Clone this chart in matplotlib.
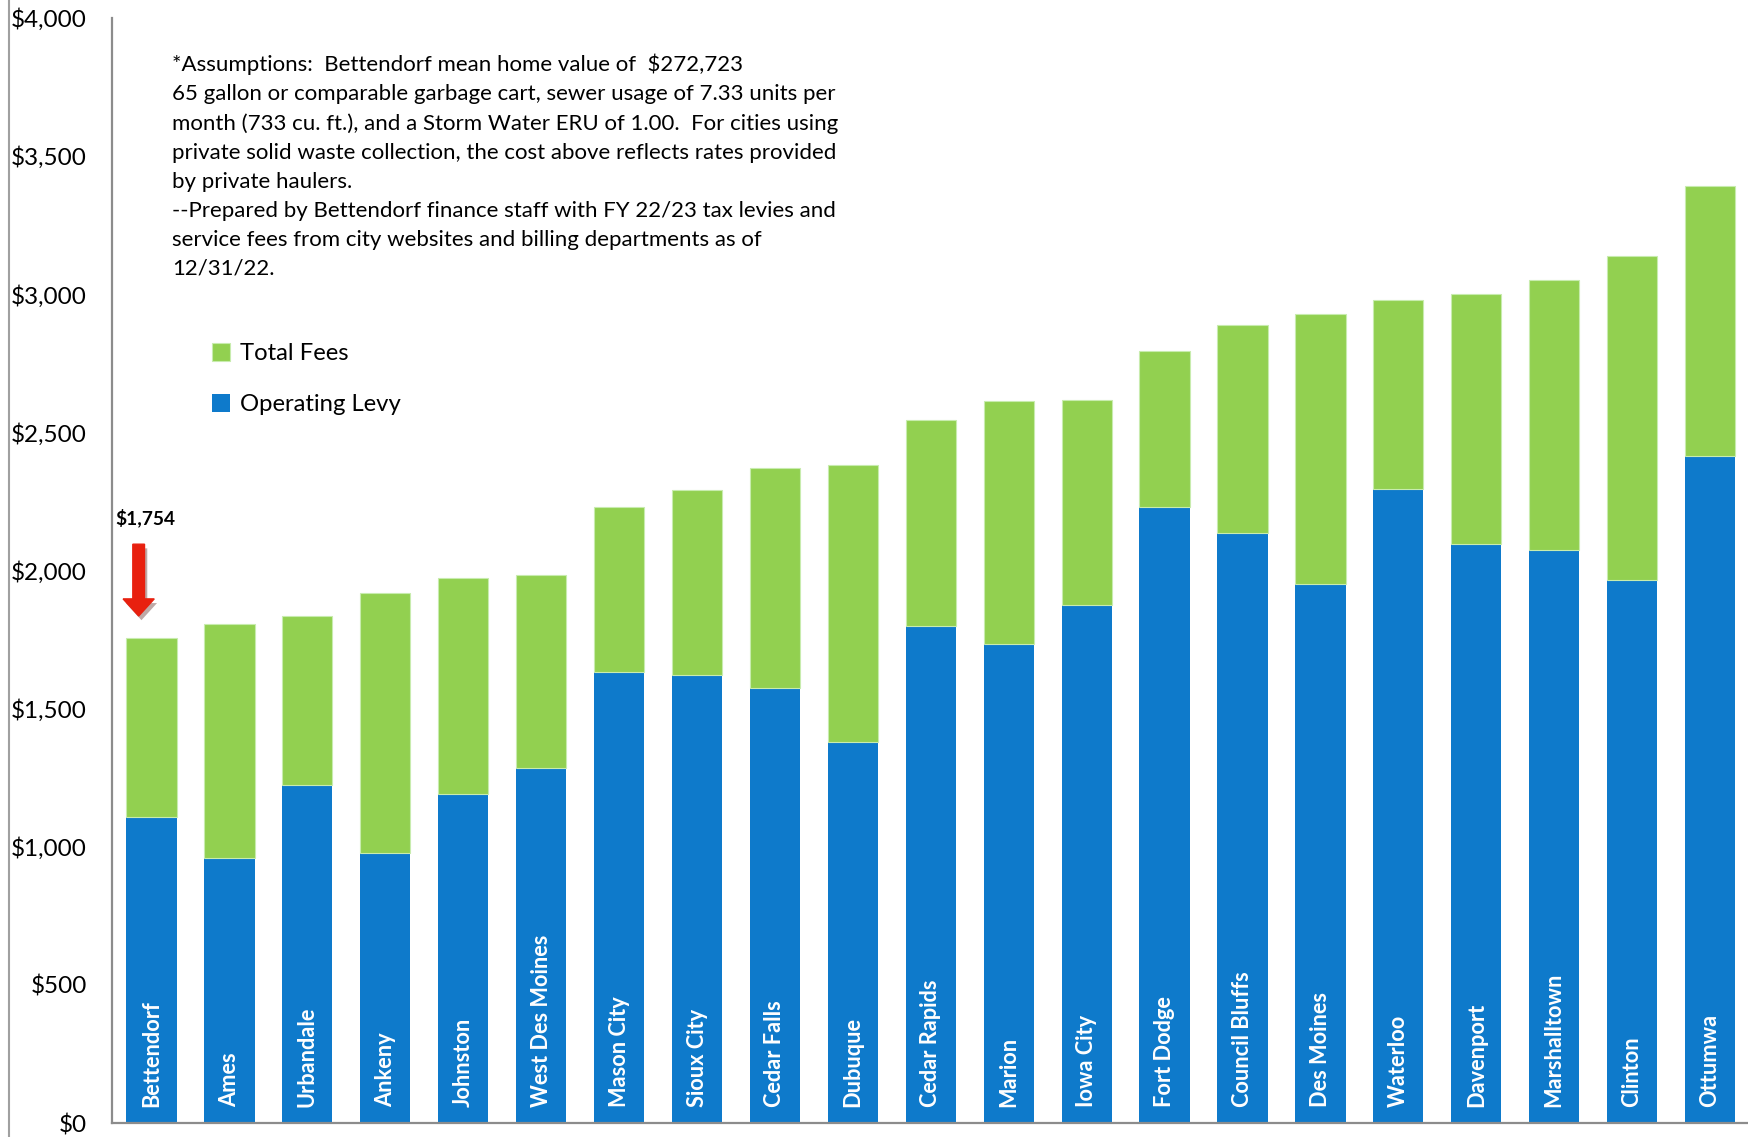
import numpy as np
import matplotlib.pyplot as plt
from matplotlib.lines import Line2D
from matplotlib.patches import FancyArrow
import matplotlib.patheffects as pe

plt.rcParams['font.family'] = ['Lato', 'DejaVu Sans']

# cities, sorted by total annual cost
cities = ["Bettendorf", "Ames", "Urbandale", "Ankeny", "Johnston", "West Des Moines",
          "Mason City", "Sioux City", "Cedar Falls", "Dubuque", "Cedar Rapids", "Marion",
          "Iowa City", "Fort Dodge", "Council Bluffs", "Des Moines", "Waterloo",
          "Davenport", "Marshalltown", "Clinton", "Ottumwa"]
operating_levy = [1109, 960, 1222, 976, 1190, 1286, 1633, 1621, 1573, 1379, 1798, 1734,
                  1875, 2230, 2137, 1952, 2294, 2097, 2073, 1964, 2415]
total_cost = [1754, 1806, 1835, 1919, 1972, 1984, 2230, 2290, 2371, 2383, 2544, 2613,
              2617, 2794, 2887, 2927, 2980, 3000, 3052, 3137, 3391]
total_fees = [t - l for t, l in zip(total_cost, operating_levy)]

yticks = list(range(0, 4001, 500))

note = ("*Assumptions:  Bettendorf mean home value of  $272,723\n"
        "65 gallon or comparable garbage cart, sewer usage of 7.33 units per\n"
        "month (733 cu. ft.), and a Storm Water ERU of 1.00.  For cities using\n"
        "private solid waste collection, the cost above reflects rates provided\n"
        "by private haulers.\n"
        "--Prepared by Bettendorf finance staff with FY 22/23 tax levies and\n"
        "service fees from city websites and billing departments as of\n"
        "12/31/22.")

BLUE = "#0E7ACB"
GREEN = "#92D050"

fig = plt.figure(figsize=(17.49, 11.37), dpi=100)
ax = fig.add_axes([0.064, 0.0123, 0.936, 0.972])

x = np.arange(len(cities))
b1 = ax.bar(x, operating_levy, width=0.644, color=BLUE, label="Operating Levy")
b2 = ax.bar(x, total_fees, width=0.644, bottom=operating_levy, color=GREEN,
            edgecolor="#c8ecae", linewidth=0.8, label="Total Fees")

# city names written up the inside of each bar
for xi, name in zip(x, cities):
    ax.text(xi, 58, name, rotation=90, ha="center", va="bottom",
            color="white", fontsize=15.7, fontweight="bold")

ax.set_xlim(-0.508, 20.5)
ax.set_ylim(0, 4000)
ax.set_yticks(yticks)
ax.set_yticklabels([f"${v:,}" for v in yticks])
ax.set_xticks([])
ax.tick_params(axis="y", length=0, pad=18, labelsize=17.5)
for s in ("top", "right"):
    ax.spines[s].set_visible(False)
for s in ("left", "bottom"):
    ax.spines[s].set_color("#8c8c8c")
    ax.spines[s].set_linewidth(1.6)

# Bettendorf marker
ax.text(-0.47, 2190, "$1,754", ha="left", va="center", fontsize=13.8, fontweight="bold")
arrow = FancyArrow(-0.165, 2095, 0, -260, width=0.15, head_width=0.4,
                   head_length=62, length_includes_head=True, color="#E8200F",
                   path_effects=[pe.SimplePatchShadow(offset=(2, -3), alpha=0.35),
                                 pe.Normal()])
ax.add_patch(arrow)

fig.text(0.0983, 0.953, note, ha="left", va="top", fontsize=16, linespacing=1.56)

ax.legend([b2, b1], ["Total Fees", "Operating Levy"], loc="upper left",
          bbox_to_anchor=(0.109, 0.717), bbox_transform=fig.transFigure,
          frameon=False, fontsize=17.2, handlelength=0.75, handleheight=0.75,
          handletextpad=0.4, labelspacing=1.25)

# thin frame line at the far left
fig.add_artist(Line2D([0.005, 0.005], [0, 1], color="#a0a0a0", linewidth=1.5))

fig.savefig("out.png", dpi=100)
